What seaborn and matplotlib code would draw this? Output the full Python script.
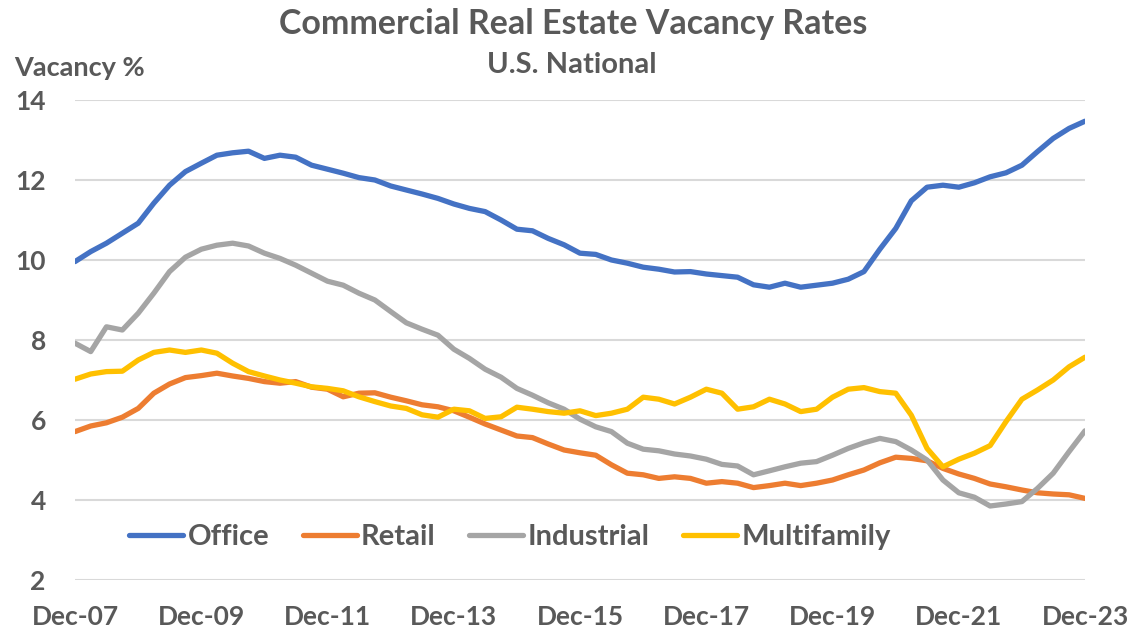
import pandas as pd
import seaborn as sns
import matplotlib.pyplot as plt

# quarterly vacancy rates, Dec-07 .. Dec-23
quarters = pd.date_range('2007-12-31', periods=65, freq='QE')

office = [9.96, 10.21, 10.42, 10.67, 10.92, 11.42, 11.87, 12.21, 12.42, 12.62, 12.68, 12.72, 12.54,
          12.62, 12.57, 12.37, 12.27, 12.17, 12.06, 12.0, 11.85, 11.75, 11.65, 11.54, 11.4, 11.29,
          11.21, 11.0, 10.77, 10.73, 10.54, 10.38, 10.17, 10.14, 10.0, 9.92, 9.82, 9.77, 9.7, 9.71,
          9.65, 9.61, 9.57, 9.38, 9.32, 9.42, 9.32, 9.37, 9.42, 9.52, 9.71, 10.27, 10.79, 11.48,
          11.82, 11.87, 11.82, 11.93, 12.08, 12.18, 12.37, 12.71, 13.04, 13.29, 13.47]
retail = [5.71, 5.85, 5.93, 6.07, 6.29, 6.67, 6.9, 7.06, 7.11, 7.17, 7.1, 7.04, 6.96, 6.92, 6.96,
          6.82, 6.77, 6.58, 6.67, 6.68, 6.57, 6.48, 6.38, 6.33, 6.23, 6.07, 5.9, 5.75, 5.6, 5.56,
          5.4, 5.25, 5.18, 5.12, 4.88, 4.67, 4.63, 4.54, 4.58, 4.54, 4.42, 4.46, 4.42, 4.31, 4.36,
          4.42, 4.36, 4.42, 4.5, 4.63, 4.75, 4.93, 5.07, 5.04, 4.98, 4.79, 4.65, 4.54, 4.4, 4.33,
          4.25, 4.18, 4.15, 4.13, 4.04]
industrial = [7.92, 7.71, 8.33, 8.25, 8.67, 9.17, 9.71, 10.07, 10.27, 10.37, 10.42, 10.35, 10.17,
              10.04, 9.87, 9.67, 9.47, 9.37, 9.17, 9.0, 8.71, 8.43, 8.27, 8.12, 7.77, 7.54, 7.27,
              7.07, 6.79, 6.62, 6.43, 6.27, 6.02, 5.83, 5.71, 5.42, 5.27, 5.23, 5.15, 5.1, 5.02,
              4.89, 4.85, 4.63, 4.73, 4.83, 4.92, 4.96, 5.12, 5.29, 5.43, 5.54, 5.46, 5.25, 5.0,
              4.5, 4.18, 4.07, 3.85, 3.9, 3.96, 4.29, 4.67, 5.21, 5.73]
multifamily = [7.02, 7.15, 7.21, 7.22, 7.5, 7.69, 7.75, 7.69, 7.75, 7.67, 7.42, 7.21, 7.1, 7.0,
               6.92, 6.83, 6.79, 6.73, 6.58, 6.46, 6.35, 6.29, 6.13, 6.07, 6.27, 6.23, 6.04, 6.08,
               6.32, 6.27, 6.21, 6.17, 6.23, 6.11, 6.17, 6.27, 6.57, 6.52, 6.4, 6.57, 6.77, 6.67,
               6.27, 6.33, 6.52, 6.4, 6.21, 6.27, 6.57, 6.77, 6.81, 6.71, 6.67, 6.12, 5.29, 4.83,
               5.02, 5.17, 5.36, 5.96, 6.52, 6.75, 7.0, 7.33, 7.57]

series_names = ['Office', 'Retail', 'Industrial', 'Multifamily']
colors = ['#4472C4', '#ED7D31', '#A5A5A5', '#FFC000']
y_ticks = [2, 4, 6, 8, 10, 12, 14]

df = pd.DataFrame({'date': quarters, 'Office': office, 'Retail': retail,
                   'Industrial': industrial, 'Multifamily': multifamily})
df = df.melt(id_vars='date', var_name='type', value_name='vacancy')

sns.set_style('white')
plt.rcParams['font.family'] = ['Lato', 'DejaVu Sans']
plt.rcParams['font.weight'] = 'bold'
grey = '#595959'

fig = plt.figure(figsize=(11.32, 6.33), dpi=100)
ax = fig.add_axes([75 / 1132, 1 - 580 / 633, 1010 / 1132, 480 / 633])

sns.lineplot(data=df, x='date', y='vacancy', hue='type', hue_order=series_names,
             palette=colors, linewidth=3.8, ax=ax)

ax.set_xlim(quarters[0], quarters[-1])
ax.set_ylim(2, 14)
ax.set_yticks(y_ticks)
ax.set_yticklabels([str(t) for t in y_ticks])
tick_dates = quarters[::8]
ax.set_xticks(tick_dates)
ax.set_xticklabels([d.strftime('%b-%y') for d in tick_dates])
ax.tick_params(axis='y', length=0, pad=21, labelsize=19, labelcolor=grey)
ax.tick_params(axis='x', length=0, pad=18, labelsize=19, labelcolor=grey)
ax.grid(axis='y', color='#D9D9D9', linewidth=1.5)
ax.set_axisbelow(True)
for s in ax.spines.values():
    s.set_visible(False)
ax.set_xlabel('')
ax.set_ylabel('')

leg = ax.legend(loc='center', bbox_to_anchor=(510 / 1132, 1 - 537 / 633),
                bbox_transform=fig.transFigure, ncol=4, frameon=False,
                fontsize=21, handlelength=1.85, handletextpad=0.15, columnspacing=1.15)
for t in leg.get_texts():
    t.set_color(grey)
for h in leg.get_lines():
    h.set_linewidth(3.8)

fig.text(573 / 1132, 1 - 24 / 633, 'Commercial Real Estate Vacancy Rates',
         ha='center', va='center', fontsize=24.5, color=grey, fontweight='bold')
fig.text(572 / 1132, 1 - 65 / 633, 'U.S. National',
         ha='center', va='center', fontsize=21, color=grey, fontweight='bold')
fig.text(14 / 1132, 1 - 68 / 633, 'Vacancy %',
         ha='left', va='center', fontsize=19.5, color=grey, fontweight='bold')

fig.savefig('out.png', dpi=100)
